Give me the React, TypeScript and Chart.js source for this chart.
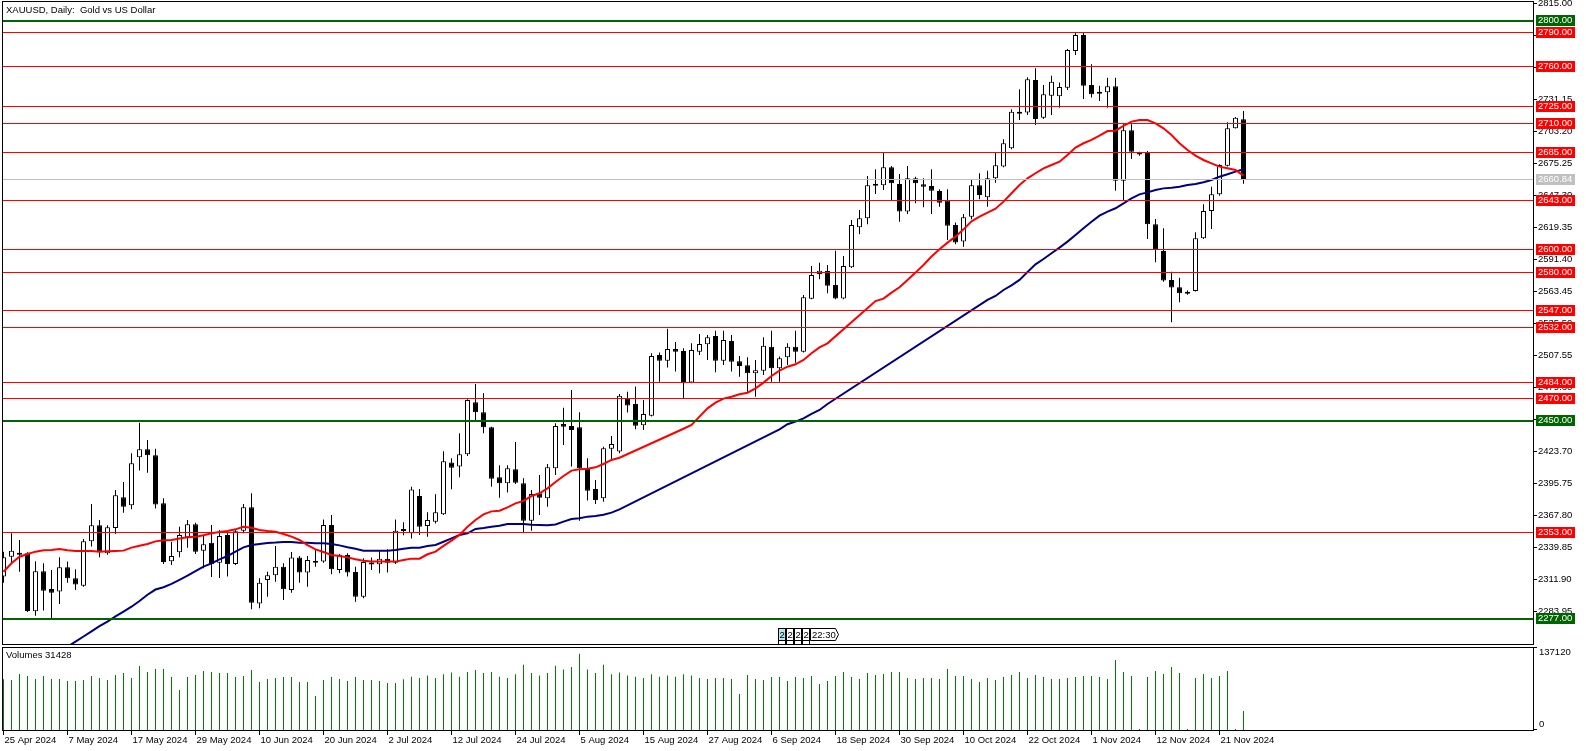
import React, { useEffect, useRef } from 'react';
import { Chart, registerables } from 'chart.js';

Chart.register(...registerables);

// ---------------- DATA ----------------
const dateLabels = [
  '25 Apr 2024', '7 May 2024', '17 May 2024', '29 May 2024', '10 Jun 2024',
  '20 Jun 2024', '2 Jul 2024', '12 Jul 2024', '24 Jul 2024', '5 Aug 2024',
  '15 Aug 2024', '27 Aug 2024', '6 Sep 2024', '18 Sep 2024', '30 Sep 2024',
  '10 Oct 2024', '22 Oct 2024', '1 Nov 2024', '12 Nov 2024', '21 Nov 2024',
];
const barsPerDateLabel = 8;

const opens = [
  2314.3, 2331.7, 2334.5, 2334.6, 2284.0, 2318.9, 2303.5, 2301.2, 2322.4, 2312.8,
  2306.4, 2345.1, 2359.1, 2334.6, 2356.8, 2383.6, 2376.6, 2418.5, 2425.5, 2420.3,
  2378.3, 2327.7, 2335.5, 2348.6, 2360.0, 2337.0, 2343.9, 2326.5, 2350.7, 2325.3,
  2354.4, 2374.8, 2290.9, 2311.3, 2315.4, 2323.0, 2302.6, 2331.1, 2317.8, 2327.9,
  2327.4, 2359.4, 2320.1, 2333.2, 2318.3, 2296.8, 2325.6, 2325.0, 2330.0, 2326.5,
  2355.3, 2352.1, 2384.7, 2358.5, 2362.3, 2368.7, 2414.1, 2410.6, 2421.1, 2466.6,
  2457.8, 2444.7, 2401.0, 2395.8, 2408.0, 2395.8, 2363.2, 2387.1, 2382.7, 2408.9,
  2447.6, 2445.9, 2444.7, 2408.6, 2390.8, 2382.7, 2426.1, 2423.5, 2470.1, 2465.1,
  2446.5, 2454.9, 2507.9, 2503.0, 2513.2, 2511.4, 2483.8, 2510.8, 2517.2, 2524.5,
  2503.0, 2520.2, 2502.4, 2498.9, 2491.9, 2494.2, 2515.2, 2496.3, 2505.9, 2515.2,
  2510.8, 2557.1, 2578.7, 2581.3, 2569.1, 2557.2, 2584.5, 2619.5, 2627.3, 2657.3,
  2656.2, 2671.9, 2657.3, 2633.2, 2662.3, 2657.0, 2655.6, 2651.2, 2642.8, 2621.5,
  2607.0, 2628.8, 2656.2, 2645.7, 2662.3, 2672.5, 2688.5, 2720.2, 2719.7, 2748.2,
  2715.3, 2734.5, 2733.9, 2741.5, 2773.5, 2787.5, 2743.8, 2737.1, 2737.4, 2742.7,
  2660.2, 2704.2, 2684.4, 2684.4, 2622.1, 2598.8, 2573.5, 2567.1, 2562.4, 2563.9,
  2609.9, 2633.7, 2648.3, 2673.3, 2706.0, 2713.8,
];
const highs = [
  2336.0, 2352.1, 2346.3, 2335.5, 2327.7, 2325.9, 2320.1, 2331.2, 2327.4, 2320.7,
  2347.2, 2377.7, 2363.8, 2359.1, 2390.0, 2397.0, 2422.0, 2448.8, 2433.7, 2426.1,
  2382.7, 2344.8, 2357.9, 2363.8, 2361.4, 2350.7, 2359.4, 2355.0, 2353.6, 2355.0,
  2377.7, 2387.1, 2312.8, 2318.6, 2341.0, 2325.9, 2335.8, 2332.3, 2332.3, 2337.5,
  2364.3, 2368.1, 2334.0, 2334.6, 2323.0, 2330.3, 2331.1, 2337.5, 2338.1, 2364.3,
  2361.7, 2392.9, 2390.8, 2370.5, 2386.2, 2423.8, 2417.6, 2439.5, 2469.2, 2482.6,
  2474.4, 2445.3, 2411.5, 2411.5, 2431.9, 2400.2, 2390.0, 2403.1, 2412.7, 2448.2,
  2461.9, 2477.3, 2457.8, 2417.6, 2398.7, 2427.8, 2437.2, 2473.8, 2475.9, 2480.3,
  2468.6, 2509.4, 2510.0, 2530.9, 2519.3, 2513.8, 2518.1, 2526.3, 2525.4, 2529.2,
  2529.2, 2525.4, 2507.1, 2505.9, 2503.6, 2523.4, 2529.2, 2506.5, 2518.1, 2529.2,
  2560.3, 2585.7, 2588.6, 2586.6, 2599.1, 2594.4, 2625.9, 2634.6, 2664.3, 2670.2,
  2684.7, 2673.1, 2666.1, 2673.1, 2663.7, 2662.3, 2670.2, 2652.7, 2652.7, 2623.6,
  2631.1, 2661.4, 2666.7, 2669.0, 2684.7, 2696.4, 2722.6, 2740.0, 2750.5, 2758.4,
  2743.8, 2752.0, 2746.1, 2775.3, 2789.8, 2789.8, 2761.9, 2743.2, 2750.2, 2750.2,
  2710.3, 2709.5, 2685.6, 2686.2, 2626.8, 2618.6, 2580.7, 2575.5, 2564.2, 2615.1,
  2639.6, 2655.0, 2674.5, 2711.2, 2715.9, 2721.1,
];
const lows = [
  2309.0, 2326.5, 2318.6, 2283.4, 2280.2, 2284.6, 2276.4, 2290.4, 2309.0, 2302.6,
  2305.5, 2340.5, 2331.2, 2333.5, 2351.5, 2370.2, 2373.1, 2406.9, 2405.1, 2373.7,
  2325.3, 2324.4, 2331.2, 2339.6, 2334.1, 2321.5, 2314.0, 2313.1, 2314.3, 2324.4,
  2352.1, 2285.7, 2286.6, 2296.8, 2309.9, 2293.9, 2300.3, 2309.0, 2305.5, 2323.0,
  2326.5, 2316.3, 2317.2, 2314.3, 2292.4, 2295.3, 2320.1, 2317.2, 2317.8, 2325.3,
  2350.4, 2347.7, 2350.7, 2349.2, 2360.8, 2368.1, 2390.6, 2401.0, 2419.7, 2450.5,
  2439.5, 2392.9, 2383.3, 2387.7, 2395.2, 2352.1, 2354.4, 2368.1, 2375.4, 2403.1,
  2429.3, 2410.4, 2363.2, 2380.7, 2377.7, 2379.8, 2416.2, 2422.0, 2457.6, 2443.0,
  2442.4, 2454.1, 2484.6, 2496.9, 2493.4, 2469.5, 2483.2, 2507.9, 2503.6, 2492.8,
  2499.2, 2493.4, 2489.0, 2475.9, 2471.5, 2490.5, 2484.6, 2484.6, 2499.2, 2501.2,
  2510.0, 2556.6, 2574.0, 2561.8, 2556.6, 2556.6, 2583.9, 2613.4, 2622.1, 2648.6,
  2652.1, 2643.4, 2624.4, 2631.1, 2640.4, 2636.9, 2631.1, 2637.5, 2608.4, 2604.6,
  2602.6, 2626.5, 2643.9, 2637.5, 2658.5, 2671.9, 2687.6, 2713.2, 2717.6, 2708.9,
  2714.1, 2717.6, 2724.0, 2739.4, 2770.0, 2731.6, 2732.8, 2729.8, 2724.0, 2651.5,
  2643.4, 2679.2, 2682.1, 2609.3, 2588.9, 2572.0, 2536.5, 2554.0, 2560.6, 2563.3,
  2609.3, 2618.0, 2647.1, 2672.5, 2705.7, 2657.6,
];
const closes = [
  2331.2, 2337.0, 2334.0, 2284.3, 2318.9, 2302.0, 2300.3, 2322.4, 2312.8, 2307.3,
  2345.1, 2359.1, 2336.1, 2357.4, 2385.3, 2375.4, 2413.3, 2425.5, 2420.3, 2377.2,
  2327.1, 2332.3, 2350.7, 2360.0, 2336.1, 2342.5, 2325.3, 2349.8, 2325.3, 2353.9,
  2374.8, 2291.5, 2309.0, 2315.4, 2323.0, 2303.2, 2331.1, 2317.8, 2328.8, 2326.8,
  2359.4, 2320.7, 2333.5, 2317.8, 2296.8, 2327.1, 2325.9, 2330.0, 2326.5, 2354.4,
  2354.7, 2390.5, 2357.9, 2363.8, 2370.5, 2415.0, 2409.5, 2421.1, 2468.6, 2457.8,
  2444.7, 2399.9, 2395.8, 2408.9, 2396.4, 2363.2, 2386.5, 2383.3, 2409.8, 2445.9,
  2445.3, 2442.4, 2408.9, 2389.4, 2381.2, 2426.4, 2430.2, 2472.4, 2463.7, 2446.2,
  2456.4, 2507.1, 2503.0, 2513.2, 2510.8, 2483.2, 2512.3, 2517.5, 2523.4, 2503.0,
  2521.0, 2502.1, 2498.3, 2491.9, 2494.5, 2516.1, 2496.3, 2505.0, 2515.2, 2510.8,
  2558.3, 2577.8, 2581.6, 2568.5, 2557.2, 2585.7, 2621.5, 2627.3, 2656.2, 2656.2,
  2671.9, 2657.9, 2633.2, 2662.3, 2657.9, 2655.0, 2651.5, 2641.0, 2620.9, 2606.1,
  2628.2, 2656.2, 2647.7, 2662.3, 2673.6, 2692.9, 2720.5, 2719.1, 2748.8, 2714.1,
  2735.7, 2746.7, 2742.1, 2774.4, 2787.5, 2743.2, 2735.7, 2736.8, 2742.7, 2660.2,
  2704.2, 2685.6, 2683.5, 2622.1, 2599.7, 2572.9, 2566.8, 2561.8, 2562.2, 2609.9,
  2633.7, 2648.3, 2673.9, 2706.0, 2715.3, 2660.84,
];
const volumes = [
  84000, 82600, 92500, 89200, 84250, 89200, 84250, 84250, 80950, 80950,
  82600, 89200, 85900, 82600, 90860, 94160, 85900, 105700, 95800, 100800,
  100800, 87550, 66080, 87550, 90860, 97470, 95800, 94160, 94160, 87550,
  89200, 99100, 79300, 84250, 85900, 87550, 87550, 79300, 79300, 56170,
  82600, 87550, 84250, 80950, 87550, 82600, 82600, 80950, 77640, 77640,
  84000, 88000, 86000, 90000, 86000, 92000, 95000, 88000, 96000, 99000,
  94000, 96000, 88000, 86000, 92000, 108000, 94000, 90000, 94000, 106000,
  100000, 104000, 126000, 100000, 94000, 108000, 92000, 95000, 90000, 88000,
  86000, 92000, 88000, 90000, 88000, 92000, 90000, 86000, 84260, 85910,
  85910, 84260, 59480, 90870, 84260, 82600, 87560, 87560, 80950, 87560,
  85910, 89210, 76000, 80950, 89210, 95820, 87560, 84260, 94170, 90870,
  92520, 95820, 95820, 85910, 84260, 85910, 85910, 84260, 100780, 89210,
  89210, 84260, 79300, 85910, 82600, 87560, 90870, 95820, 85910, 90870,
  87560, 84260, 84260, 85910, 87560, 89210, 89210, 87560, 84260, 115650,
  95820, 89210, 1650, 87560, 97470, 92520, 104080, 94170, 1650, 85910,
  92520, 85910, 89210, 97470, 1650, 31428,
];
// moving averages (null = not read, line spans the gap)
const maRed = [
  2318.6, 2325.9, 2331.7, 2334.1, 2336.1, 2337.3, 2337.6, 2338.4, 2337.3, 2336.7,
  2336.7, 2336.7, 2336.1, 2336.4, 2336.7, 2337.0, 2339.6, 2341.3, 2342.8, 2345.1,
  2346.0, 2346.3, 2347.5, 2348.6, 2349.2, 2350.4, 2352.1, 2353.3, 2354.1, 2355.6,
  2357.9, 2357.0, 2355.0, 2354.1, 2353.5, 2351.5, 2349.2, 2346.3, 2341.9, 2338.1,
  2335.8, 2333.2, 2332.3, 2331.1, 2329.4, 2328.2, 2327.6, 2327.4, 2327.4, 2327.4,
  2328.8, 2330.0, 2330.0, 2333.8, 2336.1, 2341.1, 2345.7, 2350.7, 2357.9, 2363.8,
  2368.7, 2371.3, 2371.9, 2374.8, 2378.3, 2380.4, 2384.7, 2387.1, 2391.4, 2397.0,
  2402.2, 2406.9, 2408.0, 2408.6, 2409.8, 2412.7, 2416.2, 2418.2, null, null,
  null, null, null, null, null, 2443.5, 2446.8, 2454.1, 2461.3, 2466.3,
  2469.8, 2471.5, 2473.6, 2475.0, 2478.8, 2483.8, 2489.6, 2494.2, 2497.7, 2499.8,
  2503.6, 2509.4, 2514.6, 2518.1, null, null, null, null, null, 2555.0,
  2557.2, 2562.4, 2567.1, 2573.5, 2579.9, 2586.6, 2593.9, 2600.3, 2606.1, 2611.3,
  2617.7, 2624.7, 2628.8, 2632.3, 2635.8, 2641.9, 2649.2, 2656.5, 2662.3, 2666.7,
  2671.0, 2673.9, 2676.8, 2682.7, 2689.1, 2692.9, 2695.8, 2699.6, 2703.6, 2703.9,
  2708.0, 2711.8, 2713.2, 2713.2, 2710.3, 2706.0, 2700.1, 2692.9, 2687.0, 2682.1,
  2678.3, 2675.4, 2672.5, 2671.0, 2669.6, 2664.6,
];
const maBlue = [
  null, null, null, null, null, null, null, null, 2253.0, 2257.5,
  2262.0, 2266.5, 2271.0, 2275.0, 2279.5, 2283.7, 2288.0, 2293.0, 2298.5, 2303.0,
  2305.0, 2308.0, 2311.5, 2315.1, 2319.0, 2323.0, 2325.9, 2329.4, 2332.3, 2336.1,
  2339.9, 2341.9, 2342.8, 2343.7, 2344.0, 2344.5, 2344.5, 2343.9, 2343.9, 2343.4,
  2343.4, 2342.8, 2341.6, 2339.9, 2338.7, 2337.0, 2337.0, 2337.0, 2337.0, 2337.6,
  2338.7, 2339.6, 2339.6, 2341.1, 2342.0, 2344.8, 2347.7, 2350.7, 2352.1, 2355.9,
  2356.8, 2357.9, 2358.8, 2360.3, 2360.3, 2360.3, 2359.7, 2359.4, 2359.1, 2359.9,
  2362.3, 2364.6, 2365.2, 2366.7, 2367.3, 2368.4, 2370.2, 2373.1, null, null,
  null, null, null, null, null, null, null, null, null, null,
  null, null, null, null, null, null, null, 2443.0, 2447.4, 2449.7,
  2452.6, 2456.4, 2459.9, 2465.1, null, null, null, null, null, null,
  null, null, null, null, null, null, null, null, null, null,
  null, null, null, 2556.0, 2559.5, 2564.7, 2568.8, 2573.5, 2580.5, 2587.1,
  2591.8, 2596.8, 2601.7, 2607.0, 2612.8, 2618.6, 2624.4, 2629.7, 2633.2, 2636.1,
  2640.4, 2644.8, 2648.3, 2650.0, 2652.1, 2653.5, 2654.1, 2655.0, 2656.5, 2657.3,
  2658.8, 2660.8, 2663.7, 2665.8, 2668.1, 2670.2,
];
const priceTickLabels = [
  '2815.00', '2787.05', '2759.10', '2731.15', '2703.20', '2675.25', '2647.30',
  '2619.35', '2591.40', '2563.45', '2535.50', '2507.55', '2479.60', '2451.65',
  '2423.70', '2395.75', '2367.80', '2339.85', '2311.90', '2283.95',
];
const greenLevels = [2800, 2450, 2277];
const redLevels = [2790, 2760, 2725, 2710, 2685, 2643, 2600, 2580, 2547, 2532, 2484, 2470, 2353];
const bidPrice = 2660.84;
const volumeAxisTop = 137120;
const eventLabels = ['2', '2', '2', '2', '22:30'];
const eventBar = 97;
const titleText = 'XAUUSD, Daily:  Gold vs US Dollar';

// ---------------- LAYOUT ----------------
const W = 1586;
const H = 751;
const P_LEFT = 2;
const P_RIGHT = 1533;
const P_TOP = 2;
const PRICE_BOTTOM = 644;
const VOL_TOP = 647;
const VOL_BOTTOM = 730;
const PRICE_AT_TOP = 2816.33;
const PRICE_AT_BOTTOM = 2255.42;
const BAR_PX = 8;
const FIRST_BAR_PX = 3.5;
const FONT = '9.5px "Liberation Sans", Arial, sans-serif';

const RED = '#ff0000';
const DKGREEN = '#006400';
const NAVY = '#000080';
const SILVER = '#c0c0c0';
const VOLGREEN = '#008000';

function fmt(v: number) {
  return v.toFixed(2);
}

const mtPlugin = {
  id: 'mtDecor',
  beforeDraw(chart: any) {
    const ctx = chart.ctx;
    ctx.save();
    ctx.fillStyle = '#ffffff';
    ctx.fillRect(0, 0, chart.width, chart.height);
    ctx.restore();
  },
  afterDatasetsDraw(chart: any) {
    const ctx = chart.ctx;
    const ys = chart.scales.y;
    const xs = chart.scales.x;
    ctx.save();
    ctx.beginPath();
    ctx.rect(P_LEFT + 1, P_TOP, P_RIGHT - P_LEFT - 1, PRICE_BOTTOM - P_TOP);
    ctx.clip();
    // bid line
    ctx.fillStyle = SILVER;
    ctx.fillRect(P_LEFT, Math.floor(ys.getPixelForValue(bidPrice)), P_RIGHT - P_LEFT, 1);
    ctx.fillStyle = RED;
    redLevels.forEach((v) => {
      ctx.fillRect(P_LEFT, Math.floor(ys.getPixelForValue(v)), P_RIGHT - P_LEFT, 1);
    });
    ctx.fillStyle = DKGREEN;
    greenLevels.forEach((v) => {
      ctx.fillRect(P_LEFT, Math.round(ys.getPixelForValue(v)) - 1, P_RIGHT - P_LEFT, 2);
    });
    ctx.restore();

    // event markers
    ctx.save();
    ctx.font = FONT;
    ctx.textBaseline = 'middle';
    ctx.strokeStyle = '#000';
    ctx.lineWidth = 1;
    const ex = Math.floor(xs.getPixelForValue(eventBar)) - 1;
    const top = 628;
    const bot = 640;
    eventLabels.forEach((lab, k) => {
      const x0 = ex + 8 * k;
      if (lab.length === 1) {
        ctx.fillStyle = k === 0 ? '#b0e8f0' : '#ffffff';
        ctx.fillRect(x0 + 0.5, top + 0.5, 7, bot - top);
        ctx.strokeRect(x0 + 0.5, top + 0.5, 7, bot - top);
        ctx.beginPath();
        ctx.moveTo(x0 + 0.5, bot);
        ctx.lineTo(x0 + 0.5, PRICE_BOTTOM);
        ctx.moveTo(x0 + 7.5, bot);
        ctx.lineTo(x0 + 7.5, PRICE_BOTTOM);
        ctx.stroke();
        ctx.fillStyle = '#000';
        ctx.fillText(lab, x0 + 1.5, (top + bot) / 2 + 1);
      } else {
        const x1 = x0 + 25;
        ctx.fillStyle = '#ffffff';
        ctx.beginPath();
        ctx.moveTo(x0 + 0.5, top + 0.5);
        ctx.lineTo(x1 + 0.5, top + 0.5);
        ctx.lineTo(x1 + 3.5, (top + bot) / 2 + 0.5);
        ctx.lineTo(x1 + 0.5, bot + 0.5);
        ctx.lineTo(x0 + 0.5, bot + 0.5);
        ctx.closePath();
        ctx.fill();
        ctx.stroke();
        ctx.fillStyle = '#000';
        ctx.fillText(lab, x0 + 2, (top + bot) / 2 + 1);
      }
    });
    ctx.restore();

    // panel borders
    ctx.save();
    ctx.strokeStyle = '#000';
    ctx.lineWidth = 1;
    ctx.strokeRect(P_LEFT + 0.5, P_TOP - 0.5, P_RIGHT - P_LEFT, PRICE_BOTTOM - P_TOP + 1);
    ctx.strokeRect(P_LEFT + 0.5, VOL_TOP + 0.5, P_RIGHT - P_LEFT, VOL_BOTTOM - VOL_TOP);
    ctx.restore();
  },
  afterDraw(chart: any) {
    const ctx = chart.ctx;
    const ys = chart.scales.y;
    const yv = chart.scales.yv;
    const xs = chart.scales.x;
    ctx.save();
    ctx.font = FONT;
    ctx.textBaseline = 'middle';
    ctx.textAlign = 'left';
    ctx.fillStyle = '#000';

    // title & volume caption
    ctx.fillText(titleText, 6, 10);
    ctx.fillText('Volumes ' + volumes[volumes.length - 1], 6, 655);

    // price axis ticks
    priceTickLabels.forEach((lab) => {
      const y = Math.floor(ys.getPixelForValue(parseFloat(lab)));
      ctx.fillRect(P_RIGHT, y, 4, 1);
      ctx.fillText(lab, P_RIGHT + 5, y + 0.5);
    });

    // volume axis ticks
    const yTop = Math.floor(yv.getPixelForValue(volumeAxisTop));
    const yZero = Math.floor(yv.getPixelForValue(0)) - 1;
    ctx.fillRect(P_RIGHT, yTop, 4, 1);
    ctx.fillRect(P_RIGHT, yZero, 4, 1);
    ctx.fillText(String(volumeAxisTop), P_RIGHT + 6, yTop + 5);
    ctx.fillText('0', P_RIGHT + 6, yZero - 4.5);

    // level labels
    const box = (v: number, bg: string, yRow: number) => {
      ctx.fillStyle = bg;
      ctx.fillRect(P_RIGHT + 3, yRow - 5, 39, 11);
      ctx.fillStyle = '#ffffff';
      ctx.fillText(fmt(v), P_RIGHT + 5, yRow + 0.5);
    };
    redLevels.forEach((v) => box(v, RED, Math.floor(ys.getPixelForValue(v))));
    greenLevels.forEach((v) => box(v, DKGREEN, Math.round(ys.getPixelForValue(v)) - 1));
    box(bidPrice, SILVER, Math.floor(ys.getPixelForValue(bidPrice)));

    // date axis
    ctx.fillStyle = '#000';
    dateLabels.forEach((lab, k) => {
      const x = Math.floor(xs.getPixelForValue(k * barsPerDateLabel));
      ctx.fillRect(x, VOL_BOTTOM, 1, 5);
      ctx.fillText(lab, x + 1.5, 740);
    });
    ctx.restore();
  },
};

export default function App() {
  const ref = useRef<HTMLCanvasElement | null>(null);

  useEffect(() => {
    const canvas = ref.current;
    if (!canvas) return;
    const n = opens.length;
    const idx = Array.from({ length: n }, (_, i) => i);

    const wickData = idx.map((i) => ({ x: i, y: [lows[i], highs[i]] }));
    const minBody = 1.75;
    const bodyData = idx.map((i) => {
      let lo = Math.min(opens[i], closes[i]);
      let hi = Math.max(opens[i], closes[i]);
      if (hi - lo < minBody) {
        const m = (hi + lo) / 2;
        lo = m - minBody / 2;
        hi = m + minBody / 2;
      }
      return { x: i, y: [lo, hi] };
    });
    const bodyColors = idx.map((i) => (closes[i] >= opens[i] ? '#ffffff' : '#000000'));
    const volData = idx.map((i) => ({ x: i, y: volumes[i] }));
    const redData = idx.map((i) => ({ x: i, y: maRed[i] }));
    const blueData = idx.map((i) => ({ x: i, y: maBlue[i] }));

    const pxPerPrice = (PRICE_BOTTOM - P_TOP) / (PRICE_AT_TOP - PRICE_AT_BOTTOM);
    const yMin = PRICE_AT_TOP - (VOL_BOTTOM - P_TOP) / pxPerPrice;
    const vMax = (volumeAxisTop * (VOL_BOTTOM - P_TOP)) / (VOL_BOTTOM - VOL_TOP);
    const xMin = -(FIRST_BAR_PX - P_LEFT) / BAR_PX;
    const xMax = xMin + (P_RIGHT - P_LEFT) / BAR_PX;
    const priceClip = { left: 0, top: 0, right: 0, bottom: -(VOL_BOTTOM - PRICE_BOTTOM) };

    const chart = new Chart(canvas, {
      type: 'bar',
      data: {
        datasets: [
          {
            type: 'line',
            label: 'MA fast',
            data: redData as any,
            yAxisID: 'y',
            borderColor: RED,
            borderWidth: 2,
            pointRadius: 0,
            spanGaps: true,
            tension: 0,
            order: 1,
            clip: priceClip as any,
          },
          {
            type: 'line',
            label: 'MA slow',
            data: blueData as any,
            yAxisID: 'y',
            borderColor: NAVY,
            borderWidth: 2,
            pointRadius: 0,
            spanGaps: true,
            tension: 0,
            order: 1,
            clip: priceClip as any,
          },
          {
            type: 'bar',
            label: 'body',
            data: bodyData as any,
            yAxisID: 'y',
            backgroundColor: bodyColors,
            borderColor: '#000000',
            borderWidth: 1,
            borderSkipped: false,
            barThickness: 5,
            grouped: false,
            inflateAmount: 0,
            order: 2,
            clip: priceClip as any,
          } as any,
          {
            type: 'bar',
            label: 'wick',
            data: wickData as any,
            yAxisID: 'y',
            backgroundColor: '#000000',
            borderWidth: 0,
            barThickness: 1,
            grouped: false,
            inflateAmount: 0,
            order: 3,
            clip: priceClip as any,
          } as any,
          {
            type: 'bar',
            label: 'volume',
            data: volData as any,
            yAxisID: 'yv',
            backgroundColor: VOLGREEN,
            borderWidth: 0,
            barThickness: 1,
            grouped: false,
            inflateAmount: 0,
            order: 4,
          } as any,
        ],
      },
      options: {
        responsive: false,
        animation: false,
        events: [],
        devicePixelRatio: 1,
        layout: {
          padding: { left: P_LEFT, top: P_TOP, right: W - P_RIGHT, bottom: H - VOL_BOTTOM },
        },
        plugins: {
          legend: { display: false },
          tooltip: { enabled: false },
          title: { display: false },
        },
        scales: {
          x: { type: 'linear', min: xMin, max: xMax, display: false, offset: false },
          y: { type: 'linear', min: yMin, max: PRICE_AT_TOP, display: false },
          yv: { type: 'linear', min: 0, max: vMax, display: false },
        },
      } as any,
      plugins: [mtPlugin],
    });

    return () => chart.destroy();
  }, []);

  return (
    <div style={{ position: 'fixed', left: 0, top: 0, width: W, height: H, background: '#fff' }}>
      <canvas ref={ref} width={W} height={H} style={{ display: 'block', width: W, height: H }} />
    </div>
  );
}
